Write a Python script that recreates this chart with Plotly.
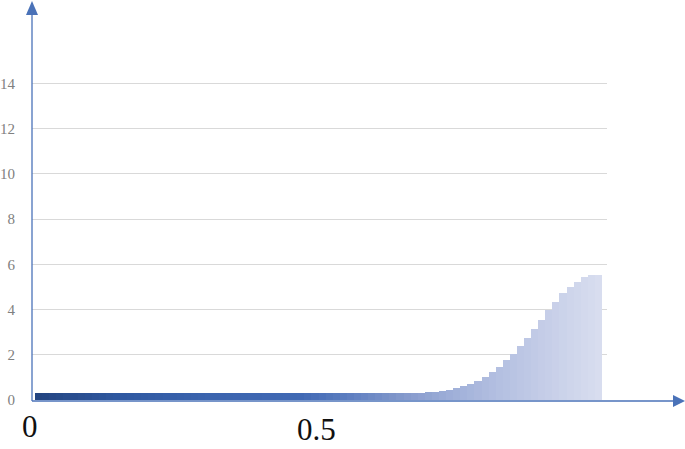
import plotly.graph_objects as go

# Data: 80 histogram bins on [0, 1]
n_bins = 80
values = [0.30] * 53 + [0.31, 0.32,
          0.34, 0.37, 0.40, 0.44, 0.51, 0.62, 0.71, 0.85, 1.03, 1.24,
          1.44, 1.77, 2.05, 2.38, 2.75, 3.13, 3.53, 3.97, 4.34, 4.71,
          5.00, 5.22, 5.42, 5.52, 5.52]
y_ticks = [0, 2, 4, 6, 8, 10, 12, 14]
x_labels = ["0", "0.5"]
x_label_pos = [0, 0.5]

bin_w = 1.0 / n_bins
centers = [(i + 0.5) * bin_w for i in range(n_bins)]

# colour gradient stops (fraction along x, rgb)
stops = [(0.0, (35, 68, 128)), (0.15, (47, 88, 160)), (0.29, (58, 99, 173)),
         (0.47, (65, 105, 180)), (0.555, (94, 127, 193)), (0.645, (131, 152, 203)),
         (0.73, (158, 174, 216)), (0.82, (180, 192, 225)), (0.91, (199, 207, 232)),
         (1.0, (217, 222, 239))]


def col(f):
    for (f0, c0), (f1, c1) in zip(stops[:-1], stops[1:]):
        if f <= f1:
            t = (f - f0) / (f1 - f0)
            c = [round(a + (b - a) * t) for a, b in zip(c0, c1)]
            return "rgb(%d,%d,%d)" % tuple(c)
    return "rgb(%d,%d,%d)" % stops[-1][1]


colors = [col(c) for c in centers]

fig = go.Figure(go.Bar(x=centers, y=values, width=bin_w,
                       marker=dict(color=colors, line=dict(width=0)),
                       hoverinfo="skip"))

W, H = 685, 449
ml, mr, mt, mb = 32, 78, 38, 49
pw, ph = W - ml - mr, H - mt - mb


def px(x):
    return (x - ml) / pw


def py(y):
    return (H - mb - y) / ph


axis_col = "#4a72b8"
shapes = [
    dict(type="line", xref="paper", yref="paper", x0=0, x1=0, y0=py(401), y1=py(13),
         line=dict(color=axis_col, width=1.3), layer="above"),
    dict(type="path", xref="paper", yref="paper",
         path="M %f %f L %f %f L %f %f Z" % (px(32), py(1), px(26), py(15), px(38), py(15)),
         fillcolor=axis_col, line=dict(width=0), layer="above"),
    dict(type="line", xref="paper", yref="paper", x0=0, x1=px(674), y0=py(401), y1=py(401),
         line=dict(color=axis_col, width=1.6), layer="above"),
    dict(type="path", xref="paper", yref="paper",
         path="M %f %f L %f %f L %f %f Z" % (px(685), py(401), px(673), py(395), px(673), py(407)),
         fillcolor=axis_col, line=dict(width=0), layer="above"),
]

label_px = [(29.5, 426), (316, 429)]
annotations = []
for lab, (lx, ly) in zip(x_labels, label_px):
    annotations.append(dict(x=px(lx), y=py(ly), xref="paper", yref="paper",
                            text=lab, showarrow=False, xanchor="center", yanchor="middle",
                            font=dict(family="Liberation Serif", size=31, color="#111111")))

fig.update_layout(
    width=W, height=H,
    margin=dict(l=ml, r=mr, t=mt, b=mb, pad=0, autoexpand=False),
    paper_bgcolor="white", plot_bgcolor="white",
    bargap=0, showlegend=False,
    xaxis=dict(range=[-3 / 567, 1 + 5 / 567], showgrid=False, zeroline=False,
               showticklabels=False, showline=False, ticks="", automargin=False),
    yaxis=dict(range=[0, 16], tickvals=y_ticks, showgrid=True, gridcolor="#d9d9d9",
               gridwidth=1, zeroline=False, showline=False, ticks="",
               ticklabelstandoff=16, automargin=False,
               tickfont=dict(family="Liberation Serif", size=15, color="#808080")),
    shapes=shapes, annotations=annotations,
)

fig.write_html("out.html", config={"displayModeBar": False},
               post_script="document.body.style.margin='0px';")
